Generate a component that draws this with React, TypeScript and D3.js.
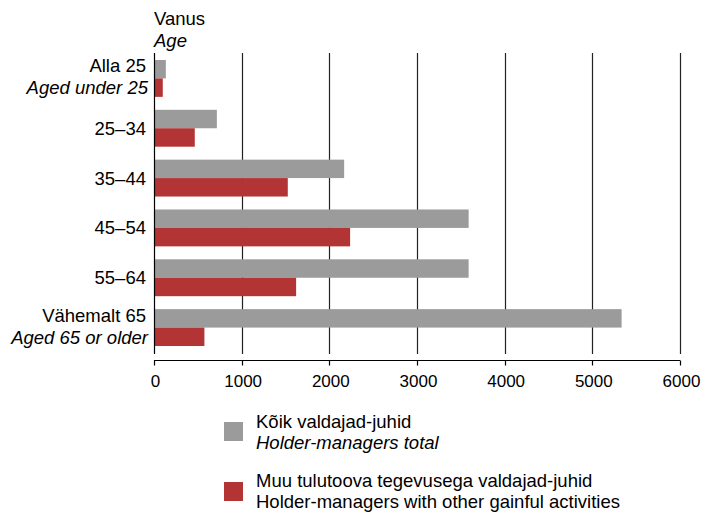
import React from "react";
import * as d3 from "d3";

const categories = ["Alla 25", "25–34", "35–44", "45–54", "55–64", "Vähemalt 65"];
const categoriesEn = ["Aged under 25", "", "", "", "", "Aged 65 or older"];
const totalValues = [135, 717, 2169, 3589, 3589, 5334];
const otherValues = [100, 465, 1526, 2237, 1621, 575];
const xTicks = [0, 1000, 2000, 3000, 4000, 5000, 6000];

const GRAY = "#9b9b9b";
const RED = "#b23434";
const FONT = "Liberation Sans, Arial, sans-serif";
const FS = 18.5;

export default function App() {
  const width = 703;
  const height = 512;
  const x = d3.scaleLinear().domain([0, 6000]).range([154, 680]);
  const y = d3
    .scaleBand<string>()
    .domain(categories)
    .range([54, 352])
    .paddingInner(0.26)
    .paddingOuter(0.12);
  const bw = y.bandwidth();
  const half = bw / 2;
  const gridTop = 53;
  const gridBottom = 354;
  const axisY = 360.5;

  return (
    <svg
      width={width}
      height={height}
      style={{ position: "absolute", left: 0, top: 0, background: "#fff" }}
      fontFamily={FONT}
    >
      {/* gridlines */}
      {xTicks.slice(1).map((t) => (
        <line
          key={"g" + t}
          x1={Math.round(x(t)) + 0.5}
          x2={Math.round(x(t)) + 0.5}
          y1={gridTop}
          y2={gridBottom}
          stroke="#222"
          strokeWidth={1.2}
        />
      ))}
      {/* bars */}
      {categories.map((c, i) => (
        <g key={c}>
          <rect x={x(0)} y={y(c)!} width={x(totalValues[i]) - x(0)} height={half} fill={GRAY} />
          <rect x={x(0)} y={y(c)! + half} width={x(otherValues[i]) - x(0)} height={half} fill={RED} />
        </g>
      ))}
      {/* zero axis */}
      <line x1={154.5} x2={154.5} y1={gridTop} y2={gridBottom} stroke="#000" strokeWidth={1.2} />
      {/* x axis */}
      <line x1={x(0)} x2={x(6000)} y1={axisY} y2={axisY} stroke="#000" strokeWidth={1.2} />
      {xTicks.map((t) => (
        <g key={"t" + t}>
          <line
            x1={Math.round(x(t)) + 0.5}
            x2={Math.round(x(t)) + 0.5}
            y1={axisY}
            y2={axisY + 5}
            stroke="#000"
            strokeWidth={1.2}
          />
          <text x={x(t) + 1.5} y={387} textAnchor="middle" fontSize={17} fill="#000">
            {t}
          </text>
        </g>
      ))}
      {/* axis title */}
      <text x={154} y={25} fontSize={FS} fill="#000">Vanus</text>
      <text x={154} y={47} fontSize={FS} fontStyle="italic" fill="#000">Age</text>
      {/* category labels */}
      {categories.map((c, i) => {
        const cy = y(c)! + half;
        if (categoriesEn[i]) {
          return (
            <g key={"l" + c}>
              <text x={146} y={cy - 6} textAnchor="end" fontSize={FS} fill="#000">{c}</text>
              <text x={148} y={cy + 16} textAnchor="end" fontSize={FS} fontStyle="italic" fill="#000">
                {categoriesEn[i]}
              </text>
            </g>
          );
        }
        return (
          <text key={"l" + c} x={146} y={cy + 6.5} textAnchor="end" fontSize={FS} fill="#000">
            {c}
          </text>
        );
      })}
      {/* legend */}
      <rect x={224} y={422} width={19} height={19} fill={GRAY} />
      <text x={256} y={428} fontSize={FS} fill="#000">Kõik valdajad-juhid</text>
      <text x={256} y={449} fontSize={FS} fontStyle="italic" fill="#000">Holder-managers total</text>
      <rect x={224} y={482} width={19} height={19} fill={RED} />
      <text x={256} y={487} fontSize={FS} fill="#000">Muu tulutoova tegevusega valdajad-juhid</text>
      <text x={256} y={508} fontSize={FS} fill="#000">Holder-managers with other gainful activities</text>
    </svg>
  );
}
